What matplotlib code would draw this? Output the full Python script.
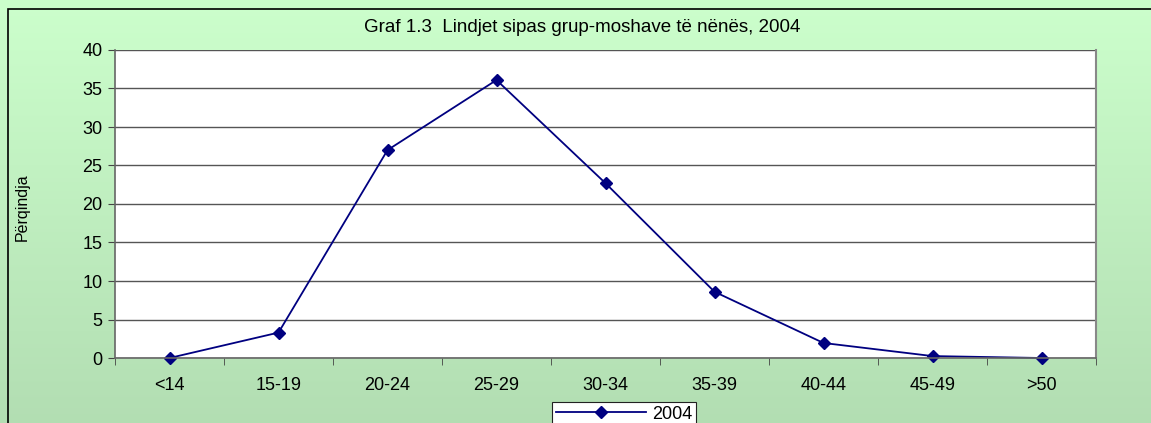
import numpy as np
import matplotlib.pyplot as plt
from matplotlib.patches import Rectangle

plt.rcParams['font.family'] = ['Liberation Sans', 'DejaVu Sans']

# data
age_groups = ["<14", "15-19", "20-24", "25-29", "30-34", "35-39", "40-44", "45-49", ">50"]
share_2004 = [0.0, 3.3, 27.0, 36.1, 22.7, 8.6, 1.95, 0.25, 0.0]
y_ticks = [0, 5, 10, 15, 20, 25, 30, 35, 40]

W, H = 1151, 423
fig = plt.figure(figsize=(W / 100, H / 100), dpi=100)

# gradient background of the chart area
bg = fig.add_axes([0, 0, 1, 1], zorder=-10)
top = np.array([0.80, 1.0, 0.80])
bottom = np.array([0.70, 0.87, 0.70])
t = np.linspace(0, 1, 256)[:, None]
grad = top * (1 - t) + bottom * t
bg.imshow(grad[:, None, :], aspect='auto', extent=[0, 1, 0, 1])
bg.add_patch(Rectangle((8 / W, -0.1), 1.1, (H - 9) / H + 0.1, transform=bg.transAxes,
                       fill=False, edgecolor='black', linewidth=1.2))
bg.set_xlim(0, 1)
bg.set_ylim(0, 1)
bg.axis('off')

# plot area
x0, x1 = 115 / W, 1096 / W
y_top, y_zero = 50, 358
ax = fig.add_axes([x0, 1 - y_zero / H, x1 - x0, (y_zero - y_top) / H])
ax.set_facecolor('white')

x = np.arange(len(age_groups))
ax.plot(x, share_2004, color='#000080', linewidth=1.3, marker='D', markersize=6,
        markerfacecolor='#000080', markeredgecolor='#000080', label='2004', clip_on=False)

ax.set_xlim(-0.5, len(age_groups) - 0.5)
ax.set_ylim(0, 40)
ax.set_yticks(y_ticks)
ax.set_xticks(x)
ax.set_xticklabels(age_groups)
ax.set_xticks(np.arange(-0.5, len(age_groups)), minor=True)
ax.tick_params(axis='x', which='major', length=0, pad=14, labelsize=13)
ax.tick_params(axis='x', which='minor', length=5, color='#444444', direction='out')
ax.tick_params(axis='y', length=5, color='#444444', labelsize=13, pad=4)
ax.yaxis.grid(True, color='#555555', linewidth=1)
ax.set_axisbelow(True)
ax.spines['top'].set_visible(False)
ax.spines['left'].set_color('#666666')
ax.spines['bottom'].set_color('#666666')
ax.spines['right'].set_color('#888888')
ax.spines['left'].set_linewidth(1.2)
ax.spines['bottom'].set_linewidth(1.2)
ax.spines['right'].set_linewidth(1.5)

fig.text(582 / W, 1 - 27 / H, "Graf 1.3  Lindjet sipas grup-moshave të nënës, 2004",
         ha='center', va='center', fontsize=13.5)
fig.text(22 / W, 1 - 207 / H, "Përqindja", rotation=90, ha='center', va='center', fontsize=11.5)

leg = fig.legend(loc='upper center', bbox_to_anchor=(624 / W, 1 - 402 / H), frameon=True,
                 fancybox=False, edgecolor='#222222', facecolor='white', framealpha=1,
                 fontsize=13, handlelength=5.0, borderpad=0.2, handletextpad=0.3,
                 borderaxespad=0)
leg.get_frame().set_linewidth(0.8)

fig.savefig("out.png", dpi=100)
